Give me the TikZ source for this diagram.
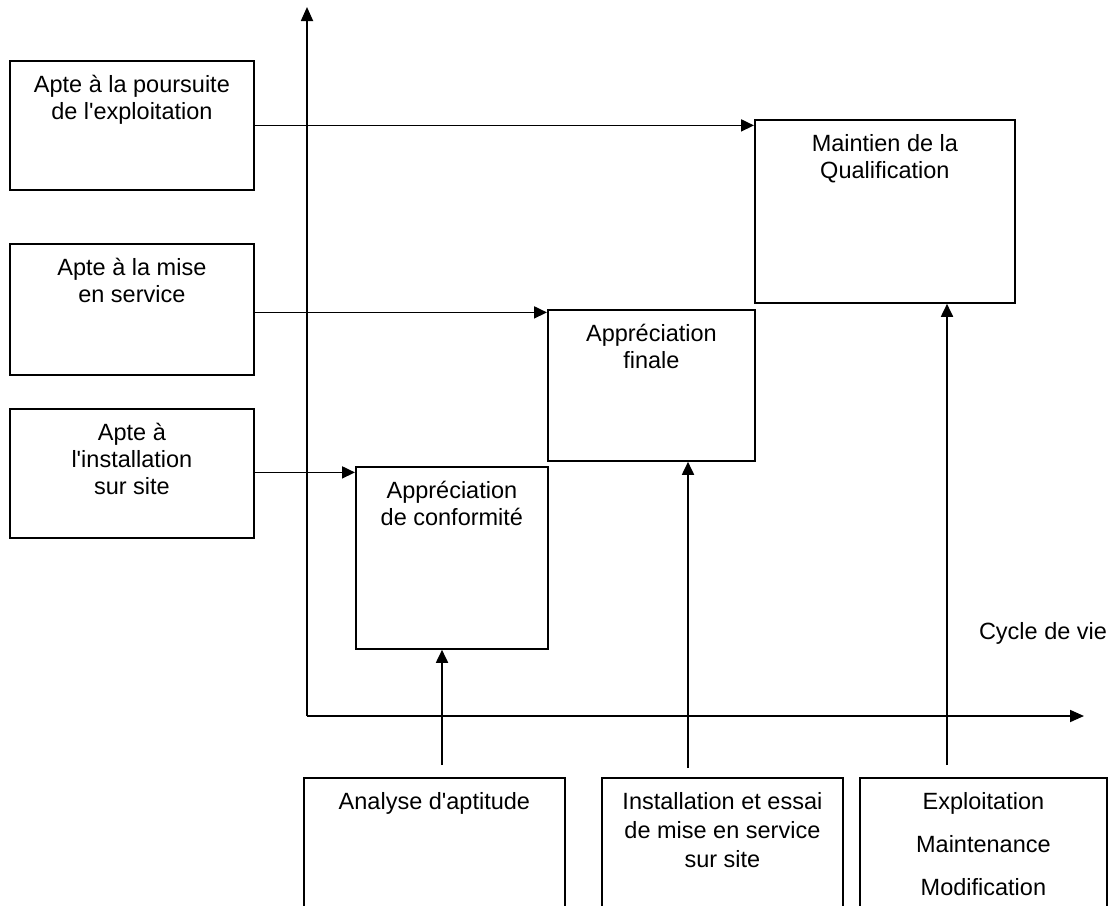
\documentclass[tikz,border=0pt]{standalone}
\usepackage{fontspec}
\setmainfont{Liberation Sans}
\usetikzlibrary{arrows.meta,calc}

\tikzset{
  box/.style={draw, line width=1.8pt, rectangle, inner sep=0pt, anchor=north west},
  lbl/.style={anchor=north, align=center, inner sep=0pt,
              font=\fontsize{23.5}{27}\selectfont},
  arr/.style={line width=1.8pt, -{Triangle[length=13pt,width=12pt]}},
  axis/.style={line width=1.8pt, -{Triangle[length=14pt,width=12pt]}}
}

% \mkbox{name}{x1}{y1}{x2}{y2}: framed rectangle from top-left to bottom-right
\newcommand{\mkbox}[5]{%
  \node[box, minimum width={(#4-#2)*1pt}, minimum height={(#5-#3)*1pt}] (#1) at (#2,#3) {};}
\newcommand{\ap}{\textquotesingle}

\begin{document}
\begin{tikzpicture}[x=1pt, y=-1pt]
  \useasboundingbox (0,0) rectangle (1111,905);
  \clip (0,0) rectangle (1111,905);

  % left-hand states
  \mkbox{L1}{9}{60}{253}{189}
  \mkbox{L2}{9}{243}{253}{374}
  \mkbox{L3}{9}{408}{253}{537}
  % staircase of assessments
  \mkbox{C}{355}{466}{547}{648}
  \mkbox{F}{547}{309}{754}{460}
  \mkbox{M}{754}{119}{1014}{302}
  % life-cycle phases (run past the lower edge)
  \mkbox{A}{303}{777}{564}{930}
  \mkbox{B}{601}{777}{842}{930}
  \mkbox{P}{859}{777}{1106}{930}

  \node[lbl] (tL1) at ([yshift=-15pt]L1.north) {Apte à la poursuite\\de l\ap exploitation};
  \node[lbl] (tL2) at ([yshift=-15pt]L2.north) {Apte à la mise\\en service};
  \node[lbl] (tL3) at ([yshift=-15pt]L3.north) {Apte à\\l\ap installation\\sur site};
  \node[lbl] (tC) at ([yshift=-15pt]C.north) {Appréciation\\de conformité};
  \node[lbl] (tF) at ([yshift=-15pt]F.north) {Appréciation\\finale};
  \node[lbl] (tM) at ([yshift=-15pt]M.north) {Maintien de la\\Qualification};
  \node[lbl] (tA) at ([yshift=-15pt]A.north) {Analyse d\ap aptitude};
  \node[lbl] (tB) at ([yshift=-15pt]B.north) {Installation et essai\\[2pt]de mise en service\\[2pt]sur site};
  \node[lbl] (tP) at ([yshift=-15pt]P.north) {Exploitation\\[16pt]Maintenance\\[16pt]Modification};

  \node[font=\fontsize{23.5}{27}\selectfont, inner sep=0pt] (cyc) at (1043,633) {Cycle de vie};

  % axes
  \coordinate (O) at (307,716);
  \coordinate (ytop) at (307,7);
  \coordinate (xend) at (1084,716);
  \draw[axis] (O) -- (ytop);
  \draw[axis] (O) -- (xend);

  % horizontal links
  \draw[arr] (L1.east) -- (L1.east -| M.west);
  \draw[arr] ([yshift=-3pt]L2.east) -- ([yshift=-3pt]L2.east -| F.west);
  \draw[arr] ([yshift=1pt]L3.east) -- ([yshift=1pt]L3.east -| C.west);

  % vertical links from the phases
  \coordinate (u1) at (442,765);
  \coordinate (u2) at (688,768);
  \coordinate (u3) at (947,765);
  \draw[arr] (u1) -- (u1 |- C.south);
  \draw[arr] (u2) -- (u2 |- F.south);
  \draw[arr] (u3) -- (u3 |- M.south);
\end{tikzpicture}
\end{document}
